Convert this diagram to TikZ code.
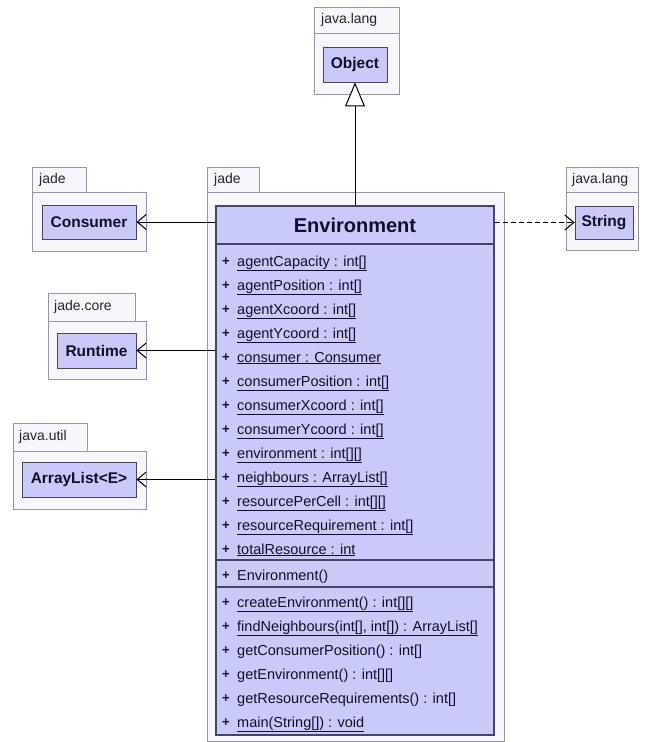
\documentclass[tikz,border=0pt]{standalone}
\usepackage{fontspec}
\setmainfont{Liberation Sans}
\usetikzlibrary{arrows.meta,positioning}

\definecolor{classfill}{RGB}{202,202,250}
\definecolor{classline}{RGB}{70,70,100}
\definecolor{pkgfill}{RGB}{246,246,252}
\definecolor{pkgline}{RGB}{150,150,165}
\definecolor{classtext}{RGB}{15,15,45}

\tikzset{
  pkg/.style={draw=pkgline,fill=pkgfill,line width=0.8pt},
  pkgname/.style={anchor=west,inner sep=0pt,font=\fontsize{14}{16}\selectfont,text=black!85},
  cls/.style={draw=classline,fill=classfill,line width=0.9pt,inner sep=0pt,
    font=\bfseries\fontsize{15.5}{18}\selectfont,text=classtext},
  member/.style={anchor=base west,inner sep=0pt,font=\fontsize{14.5}{17}\selectfont,text=classtext},
  plus/.style={member,font=\bfseries\fontsize{13}{15}\selectfont},
  assoc/.style={-{Straight Barb[length=9pt,width=15pt]},line width=1pt},
  dep/.style={assoc,dash pattern=on 5pt off 3pt},
  inherit/.style={-{Triangle[open,length=24pt,width=20pt,fill=white]},line width=1pt},
}

\begin{document}
\begin{tikzpicture}[x=1pt,y=-1pt]
  \useasboundingbox[fill=white] (0,0) rectangle (647,742);

  % packages
  \draw[pkg] (314,7) rectangle (399,33);
  \draw[pkg] (314,33) rectangle (399,94);
  \node[pkgname] (langA) at (321,20) {java.lang};
  \draw[pkg] (32,167) rectangle (86,192);
  \draw[pkg] (32,192) rectangle (146,251);
  \node[pkgname] (jadeA) at (39,179.5) {jade};
  \draw[pkg] (48,293) rectangle (135,321);
  \draw[pkg] (48,321) rectangle (146,379);
  \node[pkgname] (core) at (54,307) {jade.core};
  \draw[pkg] (13,423) rectangle (87,451);
  \draw[pkg] (13,451) rectangle (146,509);
  \node[pkgname] (util) at (19,437) {java.util};
  \draw[pkg] (566,167) rectangle (638,192);
  \draw[pkg] (566,192) rectangle (638,250);
  \node[pkgname] (langB) at (572,179.5) {java.lang};
  \draw[pkg] (207,167) rectangle (259,192);
  \draw[pkg] (207,192) rectangle (504,741);
  \node[pkgname] (jadeB) at (214,179.5) {jade};

  % small classes
  \node[cls,minimum width=64pt,minimum height=35pt] (obj) at (355,64.5) {Object};
  \node[cls,minimum width=94pt,minimum height=34pt] (cons) at (89,222) {Consumer};
  \node[cls,minimum width=79pt,minimum height=35pt] (rt) at (96.5,350.5) {Runtime};
  \node[cls,minimum width=114pt,minimum height=35pt] (alist) at (79,479.5) {ArrayList<E>};
  \node[cls,minimum width=58pt,minimum height=33pt] (str) at (604,222.5) {String};

  % Environment
  \node[cls,line width=1.2pt,minimum width=278pt,minimum height=529pt] (env) at (355,470.5) {};
  \node[font=\bfseries\fontsize{20}{24}\selectfont,text=classtext] (title) at (355,225) {Environment};
  \draw[classline,line width=1.3pt] (env.west |- 0,244) -- (env.east |- 0,244);
  \draw[classline,line width=1.3pt] (env.west |- 0,560) -- (env.east |- 0,560);
  \draw[classline,line width=1.3pt] (env.west |- 0,587) -- (env.east |- 0,587);

  \foreach \txt [count=\i from 0] in {
      \underline{agentCapacity : int[]},
      \underline{agentPosition : int[]},
      \underline{agentXcoord : int[]},
      \underline{agentYcoord : int[]},
      \underline{consumer : Consumer},
      \underline{consumerPosition : int[]},
      \underline{consumerXcoord : int[]},
      \underline{consumerYcoord : int[]},
      \underline{environment : int[][]},
      \underline{neighbours : ArrayList[]},
      \underline{resourcePerCell : int[][]},
      \underline{resourceRequirement : int[]},
      \underline{totalResource : int}}
  {
    \node[plus] at (222,265+24*\i) {+};
    \node[member] at (237,266+24*\i) {\txt};
  }
  \node[plus] (plusctor) at (222,579) {+};
  \node[member] (ctor) at (237,580) {Environment()};

  \foreach \txt [count=\i from 0] in {
      \underline{createEnvironment() : int[][]},
      {\underline{findNeighbours(int[], int[]) : ArrayList[]}},
      getConsumerPosition() : int[],
      getEnvironment() : int[][],
      getResourceRequirements() : int[],
      \underline{main(String[]) : void}}
  {
    \node[plus] at (222,606+24*\i) {+};
    \node[member] at (237,607+24*\i) {\txt};
  }

  % connectors
  \draw[inherit] (env.north) -- (obj.south);
  \draw[assoc] (env.west |- cons.east) -- (cons.east);
  \draw[assoc] (env.west |- rt.east) -- (rt.east);
  \draw[assoc] (env.west |- alist.east) -- (alist.east);
  \draw[dep] (env.east |- str.west) -- (str.west);
\end{tikzpicture}
\end{document}
